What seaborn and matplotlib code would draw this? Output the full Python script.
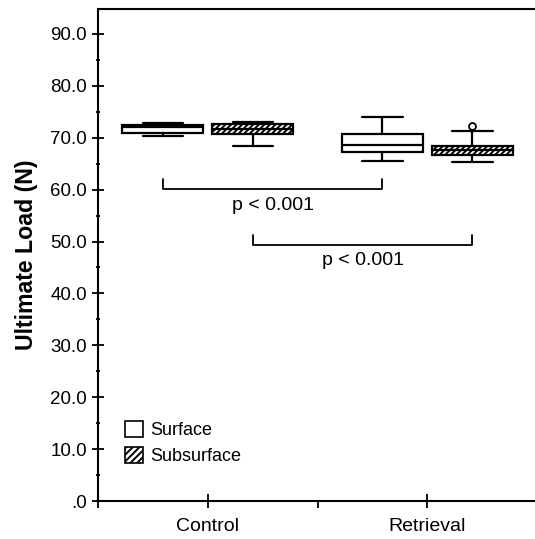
import pandas as pd
import seaborn as sns
import matplotlib.pyplot as plt
from matplotlib.patches import Patch
from matplotlib.ticker import MultipleLocator

sns.set_style('ticks')
plt.rcParams['font.family'] = ['Liberation Sans', 'DejaVu Sans']
plt.rcParams['hatch.linewidth'] = 1.4
for k in ['text.color', 'axes.labelcolor', 'xtick.color', 'ytick.color']:
    plt.rcParams[k] = 'black'

control_surface = [70.3, 70.9, 72.0, 72.5, 72.9]
control_subsurface = [68.4, 70.7, 71.7, 72.6, 73.0]
retrieval_surface = [65.5, 67.2, 68.6, 70.7, 74.0]
retrieval_subsurface = [65.3, 66.7, 66.7, 67.6, 67.6, 68.4, 68.4, 71.3, 72.3]

groups = ['Control', 'Retrieval']
layers = ['Surface', 'Subsurface']
yticks = [0, 10, 20, 30, 40, 50, 60, 70, 80, 90]
ytick_labels = ['.0', '10.0', '20.0', '30.0', '40.0', '50.0', '60.0', '70.0', '80.0', '90.0']
p_labels = ['p < 0.001', 'p < 0.001']

rows = []
for g, l, vals in [('Control', 'Surface', control_surface),
                   ('Control', 'Subsurface', control_subsurface),
                   ('Retrieval', 'Surface', retrieval_surface),
                   ('Retrieval', 'Subsurface', retrieval_subsurface)]:
    for v in vals:
        rows.append({'group': g, 'layer': l, 'load': v})
df = pd.DataFrame(rows)

fig = plt.figure(figsize=(5.35, 5.39), dpi=100)
ax = fig.add_axes([98 / 535, 38 / 539, 437 / 535, 492 / 539])

sns.boxplot(data=df, x='group', y='load', hue='layer', order=groups,
            hue_order=layers, palette=['white', 'white'], linecolor='black',
            linewidth=1.6, width=0.82, gap=0.1, whis=2.0, legend=False,
            flierprops=dict(marker='o', markersize=5, markerfacecolor='white',
                            markeredgecolor='black', markeredgewidth=1.3),
            ax=ax)

# hatch the subsurface boxes (they sit right of each category centre)
for p in ax.patches:
    ext = p.get_path().get_extents()
    cx = (ext.x0 + ext.x1) / 2
    if cx - round(cx) > 0:
        p.set_hatch('//////')
        p.set_edgecolor('black')

# significance brackets
off = 0.205
brackets = [(0 - off, 1 - off, 60.1, 62.0, 56.9),
            (0 + off, 1 + off, 49.3, 51.3, 46.3)]
for (x0, x1, yb, yt, ytxt), lab in zip(brackets, p_labels):
    ax.plot([x0, x0, x1, x1], [yt, yb, yb, yt], color='black', lw=1.3)
    ax.text((x0 + x1) / 2, ytxt, lab, ha='center', va='center', fontsize=14)

ax.set_xlim(-0.5, 1.49)
ax.set_ylim(0, 94.8)
ax.set_yticks(yticks)
ax.set_yticklabels(ytick_labels, fontsize=13.5)
ax.yaxis.set_minor_locator(MultipleLocator(5))
ax.xaxis.set_minor_locator(MultipleLocator(0.5))
ax.tick_params(axis='x', which='major', direction='inout', length=10, width=1.3,
               labelsize=14, pad=7)
ax.tick_params(axis='x', which='minor', direction='out', length=5, width=1.3)
ax.tick_params(axis='y', which='major', direction='inout', length=8, width=1.3, pad=4)
ax.tick_params(axis='y', which='minor', direction='inout', length=3, width=1.3)
ax.set_xlabel('')
ax.set_ylabel('Ultimate Load (N)', fontsize=16.7, fontweight='bold', labelpad=9)

for s in ['left', 'bottom', 'top']:
    ax.spines[s].set_linewidth(1.5)
    ax.spines[s].set_color('black')
ax.spines['right'].set_visible(False)

handles = [Patch(facecolor='white', edgecolor='black', lw=1.2),
           Patch(facecolor='white', edgecolor='black', lw=1.2, hatch='/////')]
ax.legend(handles, layers, loc='upper left', bbox_to_anchor=(0.045, 0.178),
          frameon=False, fontsize=13, handlelength=1.0, handleheight=1.0,
          handletextpad=0.4, labelspacing=0.45, borderaxespad=0)

fig.savefig('out.png', dpi=100)
